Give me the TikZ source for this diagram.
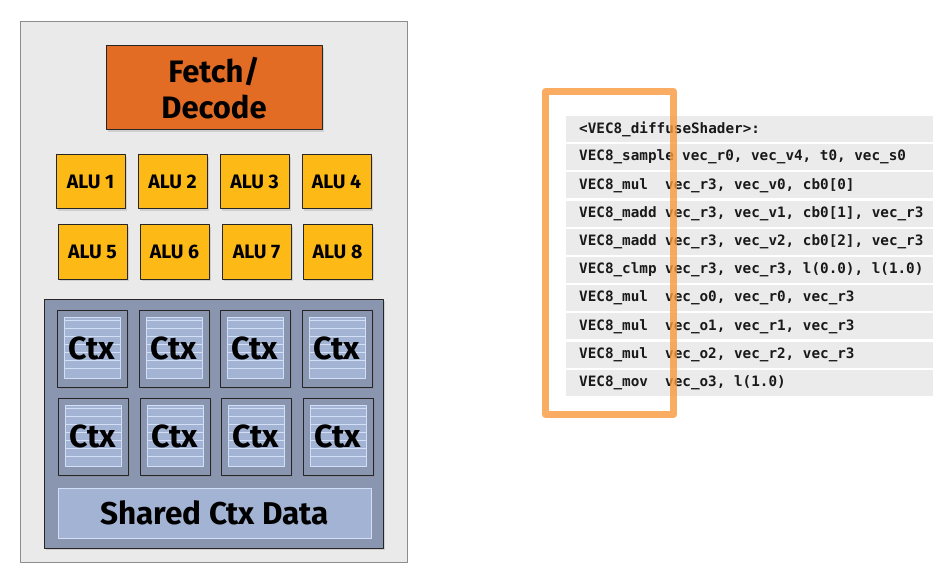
\documentclass[tikz,border=0pt]{standalone}
\usepackage{fontspec}
\setmainfont{Fira Sans}
\setmonofont{DejaVu Sans Mono}
\usetikzlibrary{shadows}

\definecolor{coreback}{HTML}{EAEAEA}
\definecolor{fetchorange}{HTML}{E36C25}
\definecolor{alugold}{HTML}{FDB915}
\definecolor{ctxblue}{HTML}{8A96B0}
\definecolor{ctxlight}{HTML}{A3B3D3}
\definecolor{ctxline}{HTML}{D3DFF7}
\definecolor{coderow}{HTML}{EBEBEB}
\definecolor{hilite}{HTML}{F9993B}

\tikzset{
  unitbox/.style={draw=black!85, line width=1pt, inner sep=0pt, outer sep=0pt, anchor=north west,
    drop shadow={shadow xshift=2pt, shadow yshift=-2pt, opacity=0.25}},
  fetchbox/.style={unitbox, fill=fetchorange, minimum width=216pt, minimum height=84pt},
  alubox/.style={unitbox, fill=alugold, minimum width=69pt, minimum height=54pt},
  ctxbox/.style={unitbox, fill=ctxblue, minimum width=70pt, minimum height=77pt},
  biglabel/.style={font=\bfseries\fontsize{31}{36}\selectfont, align=center},
  alulabel/.style={font=\bfseries\fontsize{19.5}{20}\selectfont},
  ctxlabel/.style={font=\bfseries\fontsize{32}{32}\selectfont},
  sharedlabel/.style={font=\bfseries\fontsize{31.5}{32}\selectfont},
  coderowbox/.style={fill=coderow, inner sep=0pt, outer sep=0pt, anchor=north west,
    minimum width=367pt, minimum height=26pt},
  codetext/.style={font=\ttfamily\bfseries\fontsize{14.3}{16}\selectfont,
    text=black!90, inner sep=0pt, anchor=west},
}

\begin{document}
\begin{tikzpicture}[x=1pt, y=-1pt, line join=round]
  \useasboundingbox (0,0) rectangle (948,580);

  % 1. CORE BACKGROUND
  \draw[fill=coreback, draw=black!45, line width=1pt] (20,22) rectangle (407,562);

  % 2. FETCH/DECODE AND ALUS
  \node[fetchbox] (fetch) at (106,46) {};
  \node[biglabel] at (fetch.center) {Fetch/\\Decode};

  \foreach \ax [count=\k] in {56,138,220,302} {
    \node[alubox] (alu\k) at (\ax,155) {};
    \node[alulabel] at (alu\k.center) {ALU \k};
  }
  \foreach \ax [count=\k from 5] in {58,140,222,303} {
    \node[alubox] (alu\k) at (\ax,225) {};
    \node[alulabel] at (alu\k.center) {ALU \k};
  }

  % 3. CONTEXT STORAGE
  \node[unitbox, fill=ctxblue, minimum width=339pt, minimum height=249pt] (ctxarea) at (44,299) {};

  \foreach \cy/\row in {310/1, 398/2} {
    \foreach \cx [count=\k] in {57,139,220,302} {
      \pgfmathsetmacro{\px}{\cx+\row-1}
      \node[ctxbox] (ctx\row\k) at (\px,\cy) {};
      \fill[ctxlight] (\px+7,\cy+7) rectangle (\px+63,\cy+68);
      \foreach \j in {0,...,6}
        \draw[ctxline, line width=0.8pt] (\px+7,\cy+10.5+\j*8) -- (\px+63,\cy+10.5+\j*8);
      \draw[ctxline, line width=0.8pt] (\px+7,\cy+7) rectangle (\px+63,\cy+68);
      \node[ctxlabel] at (ctx\row\k.center) {Ctx};
    }
  }

  \node[fill=ctxlight, draw=ctxline, line width=0.8pt, inner sep=0pt, outer sep=0pt, anchor=north west,
    minimum width=313pt, minimum height=50pt, sharedlabel] (shared) at (58,488) {Shared Ctx Data};

  % 4. SHADER CODE
  \foreach \op [count=\i from 0] in {
      {<VEC8\_diffuseShader>:}, VEC8\_sample, VEC8\_mul, VEC8\_madd, VEC8\_madd,
      VEC8\_clmp, VEC8\_mul, VEC8\_mul, VEC8\_mul, VEC8\_mov} {
    \node[coderowbox] (row\i) at (566,116+\i*28.2) {};
    \node[codetext] (op\i) at ([xshift=13pt]row\i.west) {\op};
  }
  \foreach \args [count=\i from 1] in {
      {vec\_r0, vec\_v4, t0, vec\_s0},
      {vec\_r3, vec\_v0, cb0[0]},
      {vec\_r3, vec\_v1, cb0[1], vec\_r3},
      {vec\_r3, vec\_v2, cb0[2], vec\_r3},
      {vec\_r3, vec\_r3, l(0.0), l(1.0)},
      {vec\_o0, vec\_r0, vec\_r3},
      {vec\_o1, vec\_r1, vec\_r3},
      {vec\_o2, vec\_r2, vec\_r3},
      {vec\_o3, l(1.0)}} {
    \ifnum\i=1
      \node[codetext] (arg\i) at ([xshift=116pt]row\i.west) {\args};
    \else
      \node[codetext] (arg\i) at ([xshift=99pt]row\i.west) {\args};
    \fi
  }

  % 5. HIGHLIGHT FRAME
  \node[draw=hilite, draw opacity=0.8, line width=7pt, inner sep=0pt, outer sep=0pt, anchor=north west,
    minimum width=128pt, minimum height=323pt] (frame) at (545.5,91.5) {};
\end{tikzpicture}
\end{document}
